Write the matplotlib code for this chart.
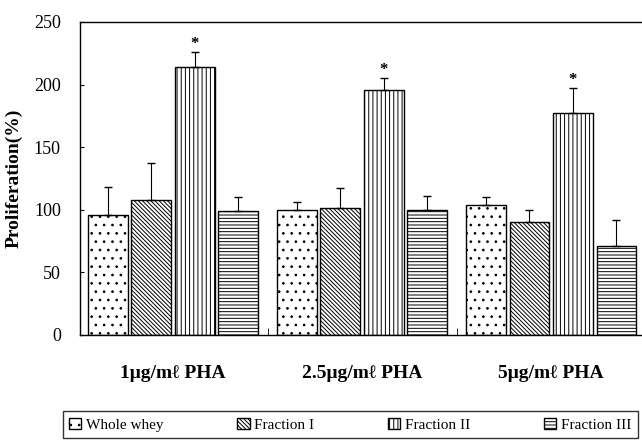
import matplotlib
matplotlib.use('Agg')
import matplotlib.pyplot as plt
import numpy as np

plt.rcParams['hatch.linewidth'] = 0.7

# data
groups = ['1\u03bcg/m\u2113 PHA', '2.5\u03bcg/m\u2113 PHA', '5\u03bcg/m\u2113 PHA']
series = ['Whole whey', 'Fraction I', 'Fraction II', 'Fraction III']
whole_whey = [96, 100, 104]
fraction_1 = [108, 101, 90]
fraction_2 = [214, 196, 177]
fraction_3 = [99, 100, 71]
err_whole_whey = [22, 6, 6]
err_fraction_1 = [29, 16, 10]
err_fraction_2 = [12, 9, 20]
err_fraction_3 = [11, 11, 21]
significant = [False, False, True, False]

values = [whole_whey, fraction_1, fraction_2, fraction_3]
errors = [err_whole_whey, err_fraction_1, err_fraction_2, err_fraction_3]
hatches = ['..', '\\' * 8, '||||', '-----']

serif = ['Liberation Serif', 'DejaVu Serif']

fig = plt.figure(figsize=(6.42, 4.40), dpi=100)
ax = fig.add_axes([0.125, 0.239, 0.875, 0.711])

x = np.arange(len(groups))
step = 0.23
width = 0.21
for i, (vals, errs) in enumerate(zip(values, errors)):
    pos = x + (i - 1.5) * step
    ax.bar(pos, vals, width, color='white', edgecolor='black', linewidth=1.0,
           hatch=hatches[i], label=series[i], zorder=2)
    ax.errorbar(pos, vals, yerr=[np.zeros(len(errs)), errs], fmt='none',
                ecolor='black', elinewidth=0.8, capsize=3, capthick=1.0, zorder=3)
    if significant[i]:
        for p, v, e in zip(pos, vals, errs):
            ax.text(p, v + e, '*', ha='center', va='bottom', fontsize=12,
                    fontweight='bold', family=serif)

ax.set_ylim(0, 250)
ax.set_xlim(-0.49, 2.48)
ax.set_yticks([0, 50, 100, 150, 200, 250])
ax.tick_params(axis='y', direction='in', length=3, labelsize=13, pad=14)
for lab in ax.get_yticklabels():
    lab.set_family(serif)

ax.set_xticks(x)
ax.set_xticklabels(groups, family=serif, fontsize=14, fontweight='bold')
ax.tick_params(axis='x', length=0, pad=22)
ax.set_xticks([0.5, 1.5], minor=True)
ax.tick_params(axis='x', which='minor', direction='in', length=5)

ax.set_ylabel('Proliferation(%)', family=serif, fontsize=14, fontweight='bold', labelpad=8)
ax.spines['right'].set_visible(False)
for s in ['left', 'top', 'bottom']:
    ax.spines[s].set_linewidth(1.0)

leg = fig.legend(loc='lower left', bbox_to_anchor=(0.098, 0.005, 0.895, 0.07),
                 mode='expand', ncol=4, frameon=True, fancybox=False,
                 prop={'family': serif, 'size': 11}, handlelength=0.8,
                 handleheight=0.8, handletextpad=0.3, borderaxespad=0)
leg.get_frame().set_edgecolor('black')
leg.get_frame().set_linewidth(1.0)

plt.savefig('out.png', dpi=100, facecolor='white')
plt.close()
